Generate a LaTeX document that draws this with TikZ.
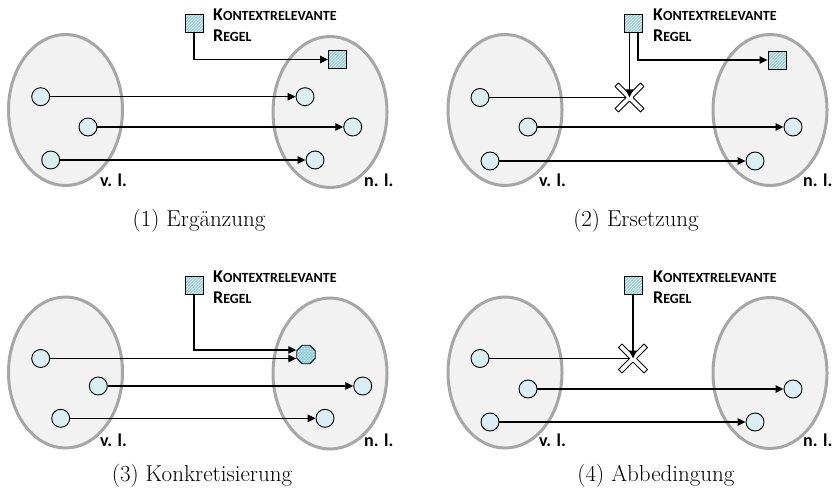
\documentclass[tikz,border=0pt]{standalone}
\usepackage{fontspec}
\newfontfamily\carlito{Carlito}
\usetikzlibrary{arrows.meta,shapes.geometric,patterns}
\definecolor{setfill}{HTML}{F2F2F2}
\definecolor{setline}{HTML}{A6A6A6}
\definecolor{element}{HTML}{DAEEF3}
\definecolor{rulefill}{HTML}{92CDDC}
\newcommand{\rulename}{%
  {\fontsize{18}{22}\selectfont K}{\fontsize{14}{22}\selectfont ONTEXTRELEVANTE}\\
  {\fontsize{18}{22}\selectfont R}{\fontsize{14}{22}\selectfont EGEL}}

\begin{document}
\begin{tikzpicture}[
  x=1pt,y=-1pt,
  set/.style={ellipse,draw=setline,fill=setfill,line width=3pt,
    minimum width=114pt,minimum height=151pt,inner sep=0pt},
  elem/.style={circle,draw,fill=element,line width=0.9pt,
    minimum size=18pt,inner sep=0pt},
  rulebox/.style={rectangle,draw,line width=0.9pt,minimum size=18pt,
    inner sep=0pt,preaction={fill=rulefill},pattern=north east lines,
    pattern color=white},
  rulepoly/.style={regular polygon,regular polygon sides=8,draw,
    line width=0.9pt,minimum size=20pt,inner sep=0pt,
    preaction={fill=rulefill},pattern=crosshatch dots,pattern color=white},
  rulelbl/.style={font=\carlito\bfseries\fontsize{18}{21.5}\selectfont,
    align=left,anchor=north west,inner sep=0pt},
  lbl/.style={font=\carlito\bfseries\fontsize{18}{22}\selectfont,
    anchor=base west,inner sep=0pt},
  caption/.style={font=\fontsize{23}{27}\selectfont,anchor=base,inner sep=0pt},
  arrow/.style={-{Triangle[length=8pt,width=7.5pt]},line width=1.2pt},
  link/.style={line width=1.2pt},
  cutmark/.style={draw,fill=white,line width=0.8pt,line join=round}
]
\useasboundingbox (0,0) rectangle (834,494);

% (1) Ergaenzung
\node[set] (vl1) at (65.5,110) {};
\node[set] (nl1) at (330,112) {};
\node[lbl] (vt1) at (100,186.5) {v. l.};
\node[lbl] (nt1) at (364,186.5) {n. l.};
\node[elem] (a1) at (40.7,96.7) {};
\node[elem] (b1) at (88,127) {};
\node[elem] (c1) at (50.7,160) {};
\node[elem] (a1n) at (305,96.7) {};
\node[elem] (b1n) at (352.7,127) {};
\node[elem] (c1n) at (315,160) {};
\node[rulebox] (rule1) at (194,23) {};
\node[rulelbl] (rt1) at (213,8.5) {\rulename};
\node[rulebox] (new1) at (337.5,59.5) {};
\node[caption] (cap1) at (199,226) {(1) Ergänzung};

\draw[arrow] (a1) -- (a1n);
\draw[arrow] (b1) -- (b1n);
\draw[arrow] (c1) -- (c1n);
\draw[arrow] (rule1) |- (new1);

% (2) Ersetzung
\node[set] (vl2) at (505,110) {};
\node[set] (nl2) at (770,110) {};
\node[lbl] (vt2) at (539,186.5) {v. l.};
\node[lbl] (nt2) at (803,186.5) {n. l.};
\node[elem] (a2) at (480,97.5) {};
\node[elem] (b2) at (528,127) {};
\node[elem] (c2) at (490,161) {};
\node[elem] (b2n) at (793,127) {};
\node[elem] (c2n) at (755,161) {};
\node[rulebox] (rule2) at (633,23) {};
\node[rulelbl] (rt2) at (653,8.5) {\rulename};
\node[rulebox] (new2) at (777,60) {};
\coordinate (cut2) at (629.5,97.5);
\node[caption] (cap2) at (636,226) {(2) Ersetzung};

\draw[link] (a2) -- (cut2);
\draw[cutmark,shift={(cut2)},rotate=45] (2.5,18) -- (2.5,2.5) -- (18,2.5)
  -- (18,-2.5) -- (2.5,-2.5) -- (2.5,-18) -- (-2.5,-18) -- (-2.5,-2.5)
  -- (-18,-2.5) -- (-18,2.5) -- (-2.5,2.5) -- (-2.5,18) -- cycle;
\draw[arrow] (rule2.south -| cut2) -- (cut2);
\draw[arrow] ([xshift=5pt]rule2.south) |- (new2);
\draw[arrow] (b2) -- (b2n);
\draw[arrow] (c2) -- (c2n);

% (3) Konkretisierung
\node[set] (vl3) at (65.5,372.5) {};
\node[set] (nl3) at (330,373.5) {};
\node[lbl] (vt3) at (100,446.5) {v. l.};
\node[lbl] (nt3) at (364,446.5) {n. l.};
\node[elem] (a3) at (40.7,358.5) {};
\node[elem] (b3) at (98.3,386) {};
\node[elem] (c3) at (60.7,418.3) {};
\node[rulepoly] (mix3) at (306,354.5) {};
\node[elem] (b3n) at (362.7,386) {};
\node[elem] (c3n) at (325,418.3) {};
\node[rulebox] (rule3) at (194,285) {};
\node[rulelbl] (rt3) at (213,270.5) {\rulename};
\node[caption] (cap3) at (202,481) {(3) Konkretisierung};

\draw[arrow] (a3) -- (a3 -| mix3.west);
\draw[arrow] (rule3) |- ([yshift=4.5pt]mix3.west);
\draw[arrow] (b3) -- (b3n);
\draw[arrow] (c3) -- (c3n);

% (4) Abbedingung
\node[set] (vl4) at (505,372.5) {};
\node[set] (nl4) at (770,373) {};
\node[lbl] (vt4) at (539,446.5) {v. l.};
\node[lbl] (nt4) at (803,446.5) {n. l.};
\node[elem] (a4) at (480,358.5) {};
\node[elem] (b4) at (528,389) {};
\node[elem] (c4) at (490,422) {};
\node[elem] (b4n) at (793,389) {};
\node[elem] (c4n) at (755,422) {};
\node[rulebox] (rule4) at (633,285) {};
\node[rulelbl] (rt4) at (653,270.5) {\rulename};
\coordinate (cut4) at (633,358.5);
\node[caption] (cap4) at (656,481) {(4) Abbedingung};

\draw[link] (a4) -- (cut4);
\draw[cutmark,shift={(cut4)},rotate=45] (2.5,18) -- (2.5,2.5) -- (18,2.5)
  -- (18,-2.5) -- (2.5,-2.5) -- (2.5,-18) -- (-2.5,-18) -- (-2.5,-2.5)
  -- (-18,-2.5) -- (-18,2.5) -- (-2.5,2.5) -- (-2.5,18) -- cycle;
\draw[arrow] (rule4) -- (cut4);
\draw[arrow] (b4) -- (b4n);
\draw[arrow] (c4) -- (c4n);
\end{tikzpicture}
\end{document}
